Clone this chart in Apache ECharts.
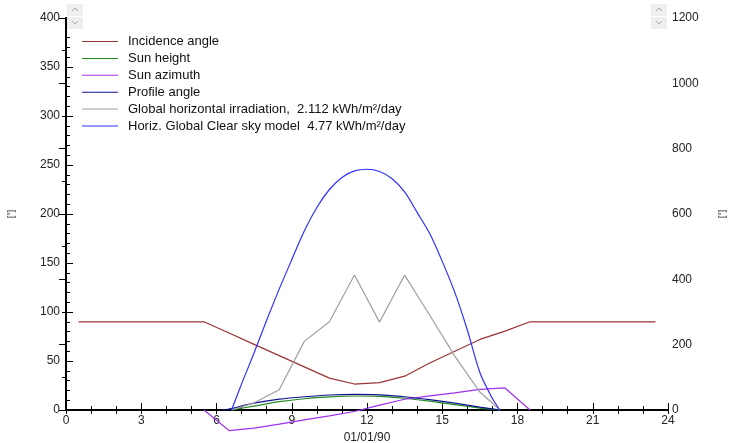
<!DOCTYPE html>
<html>
<head>
<meta charset="utf-8">
<script src="https://cdn.jsdelivr.net/npm/echarts@6/dist/echarts.min.js"></script>
<style>
  html, body { margin: 0; padding: 0; background: #fff; }
  #chart { width: 739px; height: 443px; }
</style>
</head>
<body>
<div id="chart"></div>
<script>
// hours of the day (x) and values
const incHours = [0.5, 1.5, 2.5, 3.5, 4.5, 5.5, 6.5, 7.5, 8.5, 9.5, 10.5, 11.5, 12.5, 13.5, 14.5, 15.5, 16.5, 17.5, 18.5, 19.5, 20.5, 21.5, 22.5, 23.5]
const incValues = [90, 90, 90, 90, 90, 90, 78.5, 67, 55.5, 44, 32.5, 26.5, 28, 34.5, 48, 60, 72, 80.5, 90, 90, 90, 90, 90, 90]

const heightHours = [6.6, 7.5, 8.5, 9.5, 10.5, 11.5, 12.5, 13.5, 14.5, 15.5, 16.5, 17.3]
const heightValues = [0, 4, 8.5, 11.5, 13.3, 14.3, 14, 12, 9, 5.5, 2, 0]

const azimuthHours = [5.5, 6.5, 7.5, 8.5, 9.5, 10.5, 11.5, 12.5, 13.5, 14.5, 15.5, 16.5, 17.5, 18.5]
const azimuthValues = [0, -21, -18.5, -14.5, -10, -6, -1.5, 5, 11, 14.5, 17.5, 21, 22.5, 0]

const profileHours = [6.2, 6.5, 7.5, 8.5, 9.5, 10.5, 11.5, 12.5, 13.5, 14.5, 15.5, 16.5, 17.3]
const profileValues = [0, 1, 7, 11, 13.5, 15.3, 16, 15.5, 13.5, 10.5, 7, 3, 0]

const globalHours = [6.6, 7.5, 8.5, 9.5, 10.5, 11.5, 12.5, 13.5, 14.5, 15.5, 16.5, 17.3]
const globalValues = [0, 22, 62, 210, 270, 413, 269, 413, 290, 165, 55, 0]

const clearHours = [6.6, 7, 7.5, 8, 8.5, 9, 9.5, 10, 10.5, 11, 11.5, 12, 12.5, 13, 13.5, 14, 14.5, 15, 15.5, 16, 16.5, 17, 17.3]
const clearValues = [0, 80, 175, 275, 370, 460, 548, 620, 675, 712, 732, 737, 730, 708, 668, 605, 540, 455, 360, 245, 115, 35, 0]

const seriesNames = [
  'Incidence angle',
  'Sun height',
  'Sun azimuth',
  'Profile angle',
  'Global horizontal irradiation,  2.112 kWh/m²/day',
  'Horiz. Global Clear sky model  4.77 kWh/m²/day',
]
const seriesColors = ['#993333', '#208a20', '#a030f0', '#101090', '#a0a0a0', '#3030ff']

const pairs = (xs, ys) => xs.map((x, i) => [x, ys[i]])

const chart = echarts.init(document.getElementById('chart'))

function lineSeries(idx, data, opts) {
  return Object.assign({
    name: seriesNames[idx],
    type: 'line',
    data,
    showSymbol: false,
    symbol: 'none',
    clip: false,
    lineStyle: { width: 1.2, color: seriesColors[idx] },
    itemStyle: { color: seriesColors[idx] },
    animation: false,
  }, opts || {})
}

const tickStyle = { color: '#000', width: 1 }
const font = 'Liberation Sans, Arial, sans-serif'

const chevron = (x, y, up) => ({
  type: 'polyline',
  shape: { points: up ? [[x - 3, y + 2], [x, y - 1], [x + 3, y + 2]] : [[x - 3, y - 1], [x, y + 2], [x + 3, y - 1]] },
  style: { stroke: '#a8a8a8', lineWidth: 1, fill: null },
  z: 101,
})

chart.setOption({
  backgroundColor: '#fff',
  animation: false,
  grid: { left: 66, right: 71, top: 18, bottom: 33, outerBoundsMode: 'none', containLabel: false },
  legend: {
    orient: 'vertical',
    left: 77,
    top: 30,
    itemWidth: 36,
    itemHeight: 1,
    itemGap: 3.9,
    icon: 'rect',
    data: seriesNames,
    textStyle: { fontFamily: font, fontSize: 13, color: '#111', padding: [0, 0, 0, 5] },
  },
  xAxis: [
    {
      type: 'value', min: 0, max: 24, interval: 3, position: 'bottom',
      axisLine: { lineStyle: { color: '#000', width: 2 } },
      axisTick: { inside: true, length: 7, lineStyle: tickStyle },
      minorTick: { show: true, splitNumber: 3, length: 4, lineStyle: tickStyle },
      axisLabel: { color: '#222', fontFamily: font, fontSize: 12, margin: 5 },
      splitLine: { show: false },
      name: '01/01/90', nameLocation: 'middle', nameGap: 20,
      nameTextStyle: { color: '#222', fontFamily: font, fontSize: 12 },
    },
    {
      type: 'value', min: 0, max: 24, interval: 1, position: 'top',
      axisLine: { lineStyle: { color: '#000', width: 1.5 } },
      axisTick: { inside: true, length: 4, lineStyle: tickStyle },
      axisLabel: { show: false },
      splitLine: { show: false },
    },
  ],
  yAxis: [
    {
      type: 'value', min: 0, max: 400, interval: 50, position: 'left',
      axisLine: { show: true, lineStyle: { color: '#000', width: 2 } },
      axisTick: { show: true, inside: true, length: 7, lineStyle: tickStyle },
      minorTick: { show: true, splitNumber: 5, length: 4, lineStyle: tickStyle },
      axisLabel: { color: '#222', fontFamily: font, fontSize: 12, margin: 6 },
      splitLine: { show: false },
      name: '[°]', nameLocation: 'middle', nameGap: 50, nameRotate: 90,
      nameTextStyle: { color: '#222', fontFamily: font, fontSize: 9 },
    },
    {
      type: 'value', min: 0, max: 1200, interval: 200, position: 'right',
      axisLine: { show: true, lineStyle: { color: '#000', width: 1.5 } },
      axisTick: { show: true, inside: true, length: 7, lineStyle: tickStyle },
      minorTick: { show: true, splitNumber: 2, length: 4, lineStyle: tickStyle },
      axisLabel: { color: '#222', fontFamily: font, fontSize: 12, margin: 4, formatter: (v) => String(v) },
      splitLine: { show: false },
      name: '[°]', nameLocation: 'middle', nameGap: 50, nameRotate: 90,
      nameTextStyle: { color: '#222', fontFamily: font, fontSize: 9 },
    },
  ],
  graphic: [
    { type: 'rect', shape: { x: 67, y: 4, width: 16, height: 12 }, style: { fill: '#efefef' }, z: 100 },
    { type: 'rect', shape: { x: 67, y: 17, width: 16, height: 12 }, style: { fill: '#efefef' }, z: 100 },
    chevron(75, 9, true), chevron(75, 22, false),
    { type: 'rect', shape: { x: 651, y: 4, width: 16, height: 12 }, style: { fill: '#efefef' }, z: 100 },
    { type: 'rect', shape: { x: 651, y: 17, width: 16, height: 12 }, style: { fill: '#efefef' }, z: 100 },
    chevron(659, 9, true), chevron(659, 22, false),
  ],
  series: [
    lineSeries(0, pairs(incHours, incValues)),
    lineSeries(1, pairs(heightHours, heightValues), { smooth: 0.3 }),
    lineSeries(2, pairs(azimuthHours, azimuthValues)),
    lineSeries(3, pairs(profileHours, profileValues), { smooth: 0.3 }),
    lineSeries(4, pairs(globalHours, globalValues), { yAxisIndex: 1 }),
    lineSeries(5, pairs(clearHours, clearValues), { yAxisIndex: 1, smooth: 0.3 }),
  ],
})
</script>
</body>
</html>
